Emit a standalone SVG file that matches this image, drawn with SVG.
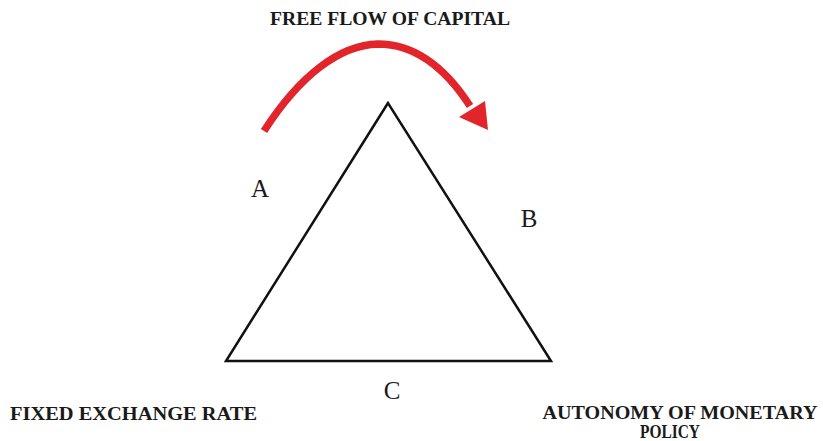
<svg xmlns="http://www.w3.org/2000/svg" width="823" height="441" viewBox="0 0 823 441">
<style>
.lbl{font-family:"Liberation Serif","DejaVu Serif",serif;font-weight:bold;fill:#1a1a1a}
.letter{font-family:"Liberation Serif","DejaVu Serif",serif;font-size:25px;fill:#1a1a1a}
.edge{fill:none;stroke:#111;stroke-width:2.5}
</style>
<rect width="823" height="441" fill="#fff"/>
<g id="triangle">
<polygon class="edge" points="388,103 226,361 551,361"/>
</g>
<g id="connectors">
<path d="M264,131 C300,75 340,45 378,44 C418,44 448,72 470,106" fill="none" stroke="#e2252b" stroke-width="7.5" stroke-linecap="butt"/>
<polygon points="459,117 485,101 488,130" fill="#e2252b"/>
</g>
<g id="title"><text class="lbl" x="390" y="25" font-size="18" text-anchor="middle" textLength="240" lengthAdjust="spacingAndGlyphs">FREE FLOW OF CAPITAL</text></g>
<g id="nodeA"><text class="letter" x="260" y="197" text-anchor="middle">A</text></g>
<g id="nodeB"><text class="letter" x="529" y="227" text-anchor="middle">B</text></g>
<g id="nodeC"><text class="letter" x="392" y="399" text-anchor="middle">C</text></g>
<g id="fixed"><text class="lbl" x="10" y="420" font-size="18" textLength="247" lengthAdjust="spacingAndGlyphs">FIXED EXCHANGE RATE</text></g>
<g id="autonomy">
<text class="lbl" x="680" y="419" font-size="18" text-anchor="middle" textLength="275" lengthAdjust="spacingAndGlyphs">AUTONOMY OF MONETARY</text>
<text class="lbl" x="670" y="438" font-size="18" text-anchor="middle" textLength="60" lengthAdjust="spacingAndGlyphs">POLICY</text>
</g>
</svg>
